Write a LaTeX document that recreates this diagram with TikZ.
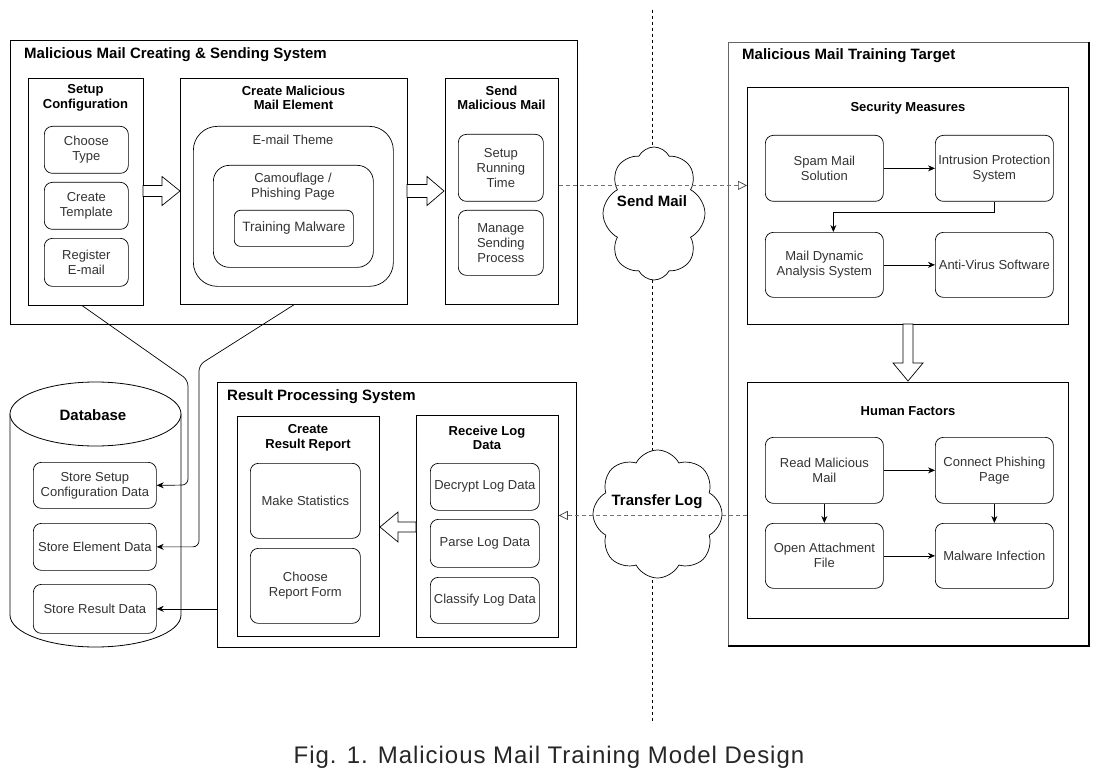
\documentclass[tikz,border=0pt]{standalone}
\usepackage{fontspec}
\setmainfont{Liberation Sans}
\usetikzlibrary{arrows.meta,shapes.symbols,calc}
\begin{document}
\begin{tikzpicture}[x=1pt,y=-1pt,
 sysbox/.style={draw, line width=0.8pt, anchor=north west, inner sep=0pt},
 rbox/.style={draw, line width=0.7pt, rounded corners=8pt, anchor=north west, inner sep=1pt, align=center, font=\fontsize{13}{15}\selectfont, text=black!80, fill=white},
 maintitle/.style={anchor=west, inner sep=0pt, font=\fontsize{15}{18}\selectfont\bfseries},
 subtitle/.style={inner sep=0pt, align=center, font=\fontsize{13}{14.5}\selectfont\bfseries},
 arr/.style={-{Stealth[length=7pt,width=6pt]}, line width=0.7pt},
 dline/.style={draw=black!55, line width=0.7pt, dash pattern=on 4pt off 3pt, -{Triangle[open,length=9pt,width=9pt,color=black!75]}},
 blockarrow/.style={draw, line width=0.7pt, fill=white},
 cloudtext/.style={inner sep=0pt, font=\fontsize{15}{18}\selectfont\bfseries},
 cloudshape/.style={cloud, draw, fill=white, line width=0.7pt, cloud puffs=8, cloud puff arc=125, cloud ignores aspect},
]
\useasboundingbox (0,0) rectangle (1104,781);

% vertical separator
\coordinate (vtop) at (652,10);
\coordinate (vbot) at (652,722);
\draw[line width=0.7pt, dash pattern=on 3pt off 3pt] (vtop) -- (vbot);

% ===== Malicious Mail Creating & Sending System =====
\node[sysbox, minimum width=567pt, minimum height=284pt] (sys1) at (10,40) {};
\node[maintitle] (sys1t) at (24,55) {Malicious Mail Creating \& Sending System};

\node[sysbox, minimum width=115pt, minimum height=227pt] (setupcfg) at (28,78) {};
\node[subtitle] (setupcfgt) at (85.5,98) {Setup\\Configuration};
\node[rbox, minimum width=84pt, minimum height=47pt] (choose) at (44,126) {Choose\\Type};
\node[rbox, minimum width=84pt, minimum height=47pt] (tmpl) at (44,182) {Create\\Template};
\node[rbox, minimum width=84pt, minimum height=48pt] (reg) at (44,238) {Register\\E-mail};

\node[sysbox, minimum width=227pt, minimum height=226pt] (createel) at (180,78) {};
\node[subtitle] (createelt) at (293.5,98) {Create Malicious\\Mail Element};
\node[rbox, rounded corners=24pt, minimum width=200pt, minimum height=160pt] (theme) at (193,126) {};
\node[inner sep=0pt, font=\fontsize{13}{15}\selectfont, text=black!80] (themet) at (293,140) {E-mail Theme};
\node[rbox, rounded corners=16pt, minimum width=160pt, minimum height=102pt] (camo) at (213,165) {};
\node[inner sep=0pt, align=center, font=\fontsize{13}{15}\selectfont, text=black!80] (camot) at (293,187) {Camouflage /\\Phishing Page};
\node[rbox, rounded corners=6pt, minimum width=119pt, minimum height=36pt, font=\fontsize{13.5}{15}\selectfont] (malw) at (234,210) {Training Malware};

\node[sysbox, minimum width=113pt, minimum height=226pt] (sendmm) at (445,78) {};
\node[subtitle] (sendmmt) at (501.5,98) {Send\\Malicious Mail};
\node[rbox, minimum width=85pt, minimum height=67pt] (runtime) at (458,134) {Setup\\Running\\Time};
\node[rbox, minimum width=85pt, minimum height=65pt] (manage) at (458,210) {Manage\\Sending\\Process};

% block arrows
\draw[blockarrow] (143,185.5) -- (162,185.5) -- (162,176.5) -- (180,191) -- (162,205.5) -- (162,196.5) -- (143,196.5) -- cycle;
\draw[blockarrow] (407,184.5) -- (427,184.5) -- (427,176.5) -- (444,191) -- (427,205.5) -- (427,197.5) -- (407,197.5) -- cycle;

% ===== Database =====
\draw[line width=0.8pt, fill=white] (10,414) -- (10,615) arc[start angle=180, end angle=360, x radius=85.5pt, y radius=32pt] -- (181,414);
\draw[line width=0.8pt, fill=white] (95.5,414) ellipse[x radius=85.5pt, y radius=32pt];
\node[inner sep=0pt, font=\fontsize{15}{18}\selectfont\bfseries] (db) at (93,415) {Database};
\node[rbox, minimum width=123pt, minimum height=46pt] (store1) at (33,462) {Store Setup\\Configuration Data};
\node[rbox, minimum width=123pt, minimum height=47pt] (store2) at (33,523) {Store Element Data};
\node[rbox, minimum width=123pt, minimum height=49pt] (store3) at (33,584) {Store Result Data};

% ===== Result Processing System =====
\node[sysbox, minimum width=359pt, minimum height=265pt] (result) at (217,382) {};
\node[maintitle] (resultt) at (227,397) {Result Processing System};
\node[sysbox, minimum width=142pt, minimum height=220pt] (crr) at (237,416) {};
\node[subtitle] (crrt) at (308,438) {Create\\Result Report};
\node[rbox, minimum width=110pt, minimum height=75pt] (stat) at (250,463) {Make Statistics};
\node[rbox, minimum width=110pt, minimum height=75pt] (form) at (250,548) {Choose\\Report Form};
\node[sysbox, minimum width=142pt, minimum height=222pt] (rld) at (416,415) {};
\node[subtitle] (rldt) at (487,438) {Receive Log\\Data};
\node[rbox, minimum width=109pt, minimum height=47pt] (dec) at (430,463) {Decrypt Log Data};
\node[rbox, minimum width=109pt, minimum height=48pt] (parse) at (430,519) {Parse Log Data};
\node[rbox, minimum width=109pt, minimum height=46pt] (cls) at (430,577) {Classify Log Data};

\draw[blockarrow] (416,522) -- (398,522) -- (398,512) -- (380,527) -- (398,542) -- (398,532) -- (416,532) -- cycle;

% ===== Malicious Mail Training Target =====
\node[sysbox, draw=black!60, minimum width=360pt, minimum height=603pt] (target) at (728,42) {};
\draw[line width=1.8pt] (target.north east) -- (target.south east) -- (target.south west);
\node[maintitle] (targett) at (742,56) {Malicious Mail Training Target};

\node[sysbox, minimum width=321pt, minimum height=237pt] (secm) at (747,87) {};
\node[subtitle] (secmt) at (908,108) {Security Measures};
\node[rbox, minimum width=118pt, minimum height=66pt] (spam) at (765,135) {Spam Mail\\Solution};
\node[rbox, minimum width=118pt, minimum height=66pt] (ips) at (935,135) {Intrusion Protection\\System};
\node[rbox, minimum width=118pt, minimum height=65pt] (mdas) at (765,232) {Mail Dynamic\\Analysis System};
\node[rbox, minimum width=118pt, minimum height=65pt] (av) at (935,232) {Anti-Virus Software};

\node[sysbox, minimum width=321pt, minimum height=236pt] (human) at (747,382) {};
\node[subtitle] (humant) at (908,411) {Human Factors};
\node[rbox, minimum width=118pt, minimum height=66pt] (read) at (765,437) {Read Malicious\\Mail};
\node[rbox, minimum width=118pt, minimum height=66pt] (conn) at (935,437) {Connect Phishing\\Page};
\node[rbox, minimum width=118pt, minimum height=65pt] (open) at (765,523) {Open Attachment\\File};
\node[rbox, minimum width=118pt, minimum height=65pt] (infect) at (935,523) {Malware Infection};

\draw[blockarrow] (903,324) -- (903,363) -- (893,363) -- (908,381) -- (923,363) -- (913,363) -- (913,324) -- cycle;

% arrows inside target
\draw[arr] (spam) -- (ips);
\draw[arr] (ips.south) -- ++(0,11) -| ([xshift=9pt]mdas.north);
\draw[arr] (mdas) -- (av);
\draw[arr] (read) -- (conn);
\draw[arr] (open) -- (infect);
\draw[arr] (read) -- (open);
\draw[arr] (conn) -- (infect);

% connectors to database
\coordinate (c1a) at (188,380);
\coordinate (c1b) at (188,485);
\draw[arr, rounded corners=6pt] ([xshift=-3.5pt]setupcfg.south) -- (c1a) -- (c1b) -- (store1.east);
\coordinate (c2a) at (199,365);
\draw[arr, rounded corners=6pt] (createel.south) -- (c2a) |- (store2.east);
\draw[arr] (result.west |- store3.east) -- (store3.east);

% clouds
\node[cloudshape, minimum width=102pt, minimum height=133pt] (cloud1) at (654,213.5) {};
\node[cloudshape, minimum width=129pt, minimum height=128pt] (cloud2) at (657.5,514) {};
\node[cloudtext] (sendmail) at (652,201) {Send Mail};
\node[cloudtext] (transfer) at (657,502) {Transfer Log};

% dashed message lines
\draw[dline] ([yshift=6pt]sendmm.east) -- ([yshift=6pt]sendmm.east -| secm.west);
\draw[dline] ([yshift=-15pt]human.west) -- ([yshift=-15pt]human.west -| rld.east);

% caption
\node[inner sep=0pt, font=\fontsize{24}{28}\selectfont\addfontfeature{LetterSpace=4}, text=black!85] (caption) at (549,757) {Fig. 1. Malicious Mail Training Model Design};
\end{tikzpicture}
\end{document}
